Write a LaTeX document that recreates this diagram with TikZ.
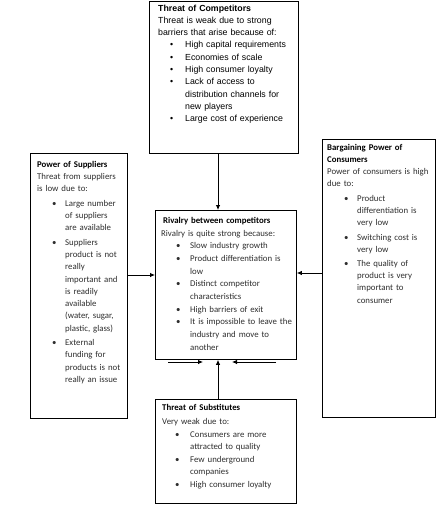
\documentclass[tikz,border=0pt]{standalone}
\usepackage{fontspec}
\setmainfont{Carlito}
\newfontfamily\arialf{Liberation Sans}
\usetikzlibrary{arrows.meta}
\newlength\bulo
\newlength\buli
\newlength\itsep
\newcommand\bul[1]{\par\vspace{\itsep}\noindent\hangindent=\buli\hangafter=1\makebox[\buli][l]{\hspace{\bulo}\textbullet}#1\par}
\newcommand\nl{\newline}
\tikzset{
  box/.style={draw=black, line width=0.9pt, rectangle, inner sep=0pt, anchor=north west},
  txt/.style={inner sep=0pt, anchor=north west, align=left, text width=#1},
  arr/.style={line width=0.8pt, -{Latex[length=5pt,width=4.5pt]}}
}
\begin{document}
\begin{tikzpicture}[x=1pt,y=-1pt]
\useasboundingbox (0,0) rectangle (443,508);
\fill[white] (0,0) rectangle (443,508);
% boxes
\node[box, minimum width=149pt, minimum height=152pt] (comp) at (149,1) {};
\node[box, minimum width=97pt, minimum height=265pt] (sup) at (30,153) {};
\node[box, minimum width=113pt, minimum height=278pt] (con) at (322,139) {};
\node[box, minimum width=141pt, minimum height=149pt] (riv) at (155,210) {};
\node[box, minimum width=141pt, minimum height=104pt] (sub) at (155,399) {};
% texts
\node[txt=138pt, font=\arialf\fontsize{8.8}{12.3}\selectfont] (tcomp) at (158,4.5) {%
\textbf{Threat of Competitors}\\
Threat is weak due to strong\\
barriers that arise because of:%
\setlength\bulo{12pt}\setlength\buli{27pt}\setlength\itsep{0pt}%
\bul{High capital requirements}
\bul{Economies of scale}
\bul{High consumer loyalty}
\bul{Lack of access to\nl distribution channels for\nl new players}
\bul{Large cost of experience}};
\node[txt=88pt, font=\fontsize{8.8}{12.3}\selectfont] (tsup) at (37,161) {%
\textbf{Power of Suppliers}\\
{\color{black!82}Threat from suppliers\\
is low due to:%
\setlength\bulo{15pt}\setlength\buli{28pt}\setlength\itsep{2pt}%
\bul{Large number\nl of suppliers\nl are available}
\bul{Suppliers\nl product is not\nl really\nl important and\nl is readily\nl available\nl (water, sugar,\nl plastic, glass)}
\bul{External\nl funding for\nl products is not\nl really an issue}}};
\node[txt=105pt, font=\fontsize{8.8}{12.1}\selectfont] (tcon) at (327,144) {%
\textbf{Bargaining Power of}\\
\textbf{Consumers}\\
{\color{black!82}Power of consumers is high\\
due to:%
\setlength\bulo{17pt}\setlength\buli{30pt}\setlength\itsep{2.5pt}%
\bul{Product\nl differentiation is\nl very low}
\bul{Switching cost is\nl very low}
\bul{The quality of\nl product is very\nl important to\nl consumer}}};
\node[txt=132pt, font=\fontsize{8.8}{12.7}\selectfont] (triv) at (161,217) {%
\hspace*{2pt}\textbf{Rivalry between competitors}\\
{\color{black!82}Rivalry is quite strong because:%
\setlength\bulo{15pt}\setlength\buli{29pt}\setlength\itsep{0pt}%
\bul{Slow industry growth}
\bul{Product differentiation is\nl low}
\bul{Distinct competitor\nl characteristics}
\bul{High barriers of exit}
\bul{It is impossible to leave the\nl industry and move to\nl another}}};
\node[txt=132pt, font=\fontsize{8.8}{12.6}\selectfont] (tsub) at (162,404) {%
\textbf{Threat of Substitutes}\par\vspace{1.5pt}
{\color{black!82}Very weak due to:%
\setlength\bulo{13pt}\setlength\buli{28pt}\setlength\itsep{0pt}%
\bul{Consumers are more\nl attracted to quality}
\bul{Few underground\nl companies}
\bul{High consumer loyalty}}};
% connectors
\coordinate (vx) at (218,0);
\coordinate (ly) at (0,275);
\coordinate (ry) at (0,273);
\draw[arr] (comp.south -| vx) -- (riv.north -| vx);
\draw[arr] (sup.east |- ly) -- (riv.west |- ly);
\draw[arr] (con.west |- ry) -- (riv.east |- ry);
\draw[arr] (sub.north -| vx) -- (riv.south -| vx);
\coordinate (la) at (168,362);
\coordinate (lb) at (203,362);
\coordinate (ra) at (276,362);
\coordinate (rb) at (232,362);
\draw[arr] (la) -- (lb);
\draw[arr] (ra) -- (rb);
\end{tikzpicture}
\end{document}
